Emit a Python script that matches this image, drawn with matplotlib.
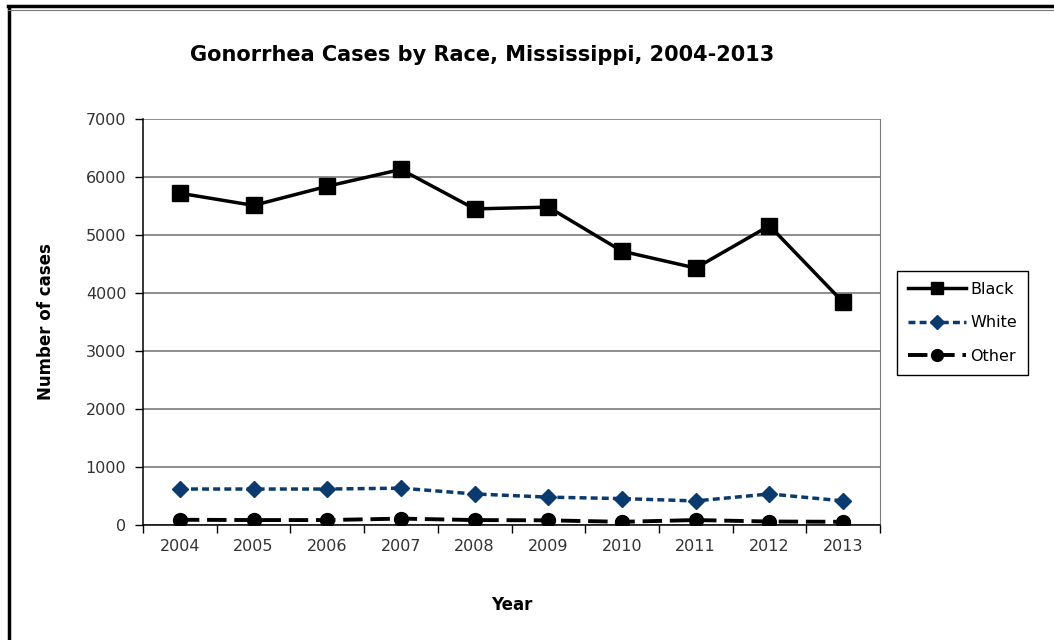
import matplotlib
matplotlib.use("Agg")
import matplotlib.pyplot as plt
from matplotlib.lines import Line2D

years = ["2004", "2005", "2006", "2007", "2008", "2009", "2010", "2011", "2012", "2013"]
black = [5720, 5510, 5840, 6130, 5450, 5480, 4720, 4430, 5160, 3840]
white = [620, 620, 620, 635, 535, 480, 455, 415, 535, 415]
other = [90, 85, 85, 110, 85, 80, 55, 85, 60, 55]

plt.rcParams['font.family'] = ['DejaVu Sans']

fig = plt.figure(figsize=(10.54, 6.4), dpi=100)
ax = fig.add_axes([0.1357, 0.1797, 0.6992, 0.6344])

x = list(range(len(years)))
ax.plot(x, black, color="black", lw=2.5, marker="s", ms=11, label="Black")
ax.plot(x, white, color="#0b3a6e", lw=2.5, ls=(0, (2, 1.2)), marker="D", ms=8, label="White")
ax.plot(x, other, color="black", lw=2.8, ls=(0, (5, 2)), marker="o", ms=10, label="Other")

ax.set_xlim(-0.5, 9.5)
ax.set_ylim(0, 7000)
ax.set_yticks(range(0, 7001, 1000))
ax.set_xticks(x)
ax.set_xticklabels(years)
ax.set_xticks([i - 0.5 for i in range(11)], minor=True)
ax.tick_params(axis="x", which="major", length=0, pad=10, labelsize=11.5, colors="#333333")
ax.tick_params(axis="x", which="minor", length=6, width=1, direction="out", color="black")
ax.tick_params(axis="y", length=6, width=1, direction="out", labelsize=11.5, pad=6, labelcolor="#333333")
ax.grid(axis="y", color="#7a7a7a", lw=1.2)
ax.set_axisbelow(True)
for s in ["left", "bottom"]:
    ax.spines[s].set_color("black")
    ax.spines[s].set_linewidth(1.1)
ax.spines["right"].set_color("#7a7a7a")
ax.spines["top"].set_visible(False)

ax.set_xlabel("Year", fontsize=12, fontweight="bold", labelpad=30)
ax.set_ylabel("Number of cases", fontsize=12, fontweight="bold", labelpad=22)
fig.text(0.457, 0.914, "Gonorrhea Cases by Race, Mississippi, 2004-2013",
         ha="center", va="center", fontsize=15, fontweight="bold")

leg = ax.legend(loc="upper left", bbox_to_anchor=(0.851, 0.577), bbox_transform=fig.transFigure,
                fancybox=False, edgecolor="black", framealpha=1, fontsize=11.5,
                handlelength=3.6, borderaxespad=0, labelspacing=1.15, borderpad=0.7,
                handletextpad=0.3, markerscale=0.85)
leg.get_frame().set_linewidth(1.0)

# outer frame (only left and top edges show)
fig.add_artist(Line2D([0.0085, 0.0085], [0.0, 0.989], color="black", lw=2.5, transform=fig.transFigure))
fig.add_artist(Line2D([0.0075, 1.0], [0.991, 0.991], color="black", lw=2.5, transform=fig.transFigure))
fig.add_artist(Line2D([0.0075, 1.0], [0.985, 0.985], color="#777777", lw=0.8, transform=fig.transFigure))

fig.savefig("out.png", dpi=100)
